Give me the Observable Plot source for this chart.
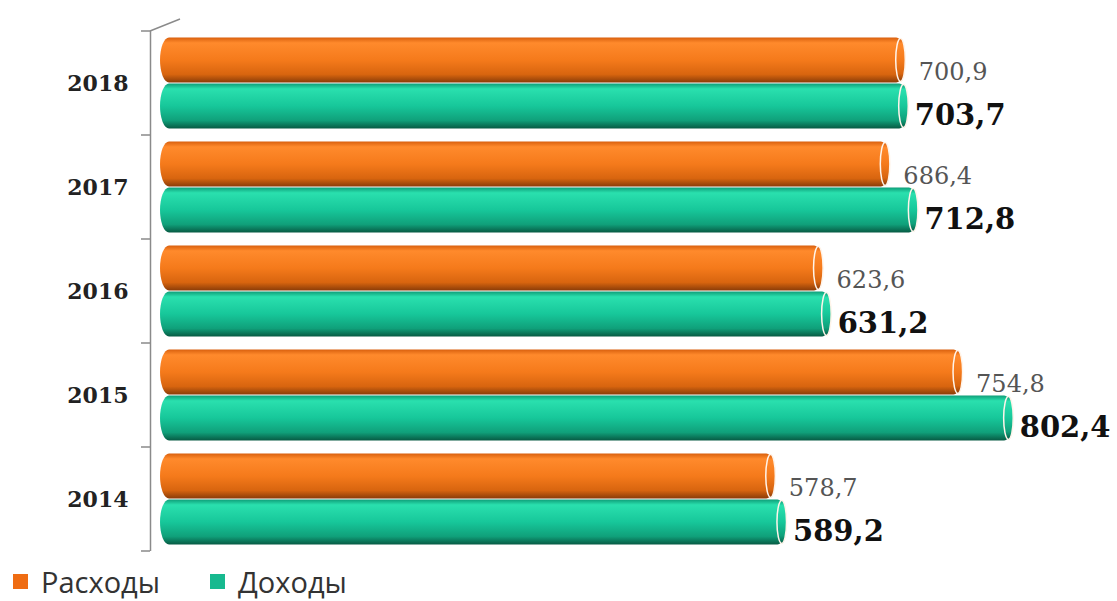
<!DOCTYPE html>
<html>
<head>
<meta charset="utf-8">
<script src="https://cdn.jsdelivr.net/npm/d3@7"></script>
<script src="https://cdn.jsdelivr.net/npm/@observablehq/plot@0.6"></script>
<style>
  html, body { margin: 0; padding: 0; background: #fff; overflow: hidden; }
  #chart { width: 1117px; }
  #chart svg { display: block; }
  .legend { display: flex; align-items: center; height: 38px; font-family: "Open Sans", sans-serif; font-size: 29px; line-height: 1; color: #333; }
  .legend .item { display: flex; align-items: center; }
  .legend .sw { width: 15px; height: 15px; display: inline-block; margin-right: 13px; }
</style>
</head>
<body>
<svg width="0" height="0" style="position:absolute">
  <defs>
    <linearGradient id="gOrange" x1="0" y1="0" x2="0" y2="1">
      <stop offset="0" stop-color="#d9600e"/>
      <stop offset="0.12" stop-color="#ff8a2c"/>
      <stop offset="0.5" stop-color="#f57a1b"/>
      <stop offset="0.82" stop-color="#d8650f"/>
      <stop offset="1" stop-color="#8a3c08"/>
    </linearGradient>
    <linearGradient id="gTeal" x1="0" y1="0" x2="0" y2="1">
      <stop offset="0" stop-color="#0e9e78"/>
      <stop offset="0.12" stop-color="#2ae0ae"/>
      <stop offset="0.5" stop-color="#17c79a"/>
      <stop offset="0.82" stop-color="#10a07a"/>
      <stop offset="1" stop-color="#075a43"/>
    </linearGradient>
  </defs>
</svg>
<div id="chart"></div>
<script>
const years = ["2018", "2017", "2016", "2015", "2014"];
const seriesNames = ["Расходы", "Доходы"];
const expenses = [700.9, 686.4, 623.6, 754.8, 578.7];
const incomes = [703.7, 712.8, 631.2, 802.4, 589.2];
const seriesColors = ["#ef6c12", "#17b98f"];
const seriesFills = ["url(#gOrange)", "url(#gTeal)"];

const data = years.flatMap((year, i) => [
  {year, series: seriesNames[0], value: expenses[i]},
  {year, series: seriesNames[1], value: incomes[i]}
]);

const fmt = v => v.toFixed(1).replace(".", ",");
const isExp = d => d.series === seriesNames[0];
const isInc = d => d.series === seriesNames[1];

const plot = Plot.plot({
  width: 1117,
  height: 562,
  marginLeft: 160,
  marginRight: 0,
  marginTop: 30,
  marginBottom: 10,
  style: {fontFamily: "DejaVu Serif", background: "#fff"},
  facet: {data, y: "year"},
  fy: {domain: years, padding: 0, axis: null, label: null},
  y: {domain: seriesNames, axis: null, paddingInner: 0, paddingOuter: 0.11},
  x: {domain: [0, 900], axis: null},
  marks: [
    Plot.ruleX(data, {filter: isExp, x: () => 0, dx: -10, stroke: "#8a8a8a", strokeWidth: 1.5}),
    Plot.barX(data, {x: "value", y: "series", fill: d => seriesFills[seriesNames.indexOf(d.series)], rx: 9, ry: 24, insetTop: 0.5, insetBottom: 0.5}),
    Plot.barX(data, {x1: d => d.value - 9, x2: "value", y: "series", fill: d => seriesFills[seriesNames.indexOf(d.series)], stroke: "#fff4ea", strokeWidth: 1.5, rx: 5, ry: 24, insetTop: 1.5, insetBottom: 1.5}),
    Plot.text(data, {filter: isExp, frameAnchor: "left", text: "year", textAnchor: "end", dx: -32, fontSize: 22, fontWeight: "bold", fill: "#222"}),
    Plot.text(data, {filter: isExp, x: "value", y: "series", text: d => fmt(d.value), textAnchor: "start", dx: 13, dy: 12, fontSize: 24, fill: "#555"}),
    Plot.text(data, {filter: isInc, x: "value", y: "series", text: d => fmt(d.value), textAnchor: "start", dx: 6, dy: 9, fontSize: 29, fontWeight: "bold", fill: "#111"})
  ]
});

// axis ticks at group boundaries (decorative axis like the original)
const svg = d3.select(plot);
const fy = plot.scale("fy");
const axisX = 150;
let bounds = [];
if (fy && fy.apply) {
  const bw = fy.bandwidth;
  bounds = years.map(y => fy.apply(y));
  bounds.push(fy.apply(years[years.length - 1]) + bw);
}
svg.append("g").attr("stroke", "#8a8a8a").attr("stroke-width", 1.5)
  .selectAll("line").data(bounds).join("line")
  .attr("x1", axisX - 9).attr("x2", axisX).attr("y1", d => d).attr("y2", d => d);
if (bounds.length) {
  svg.append("line").attr("stroke", "#8a8a8a").attr("stroke-width", 1.5)
    .attr("x1", axisX).attr("y1", bounds[0]).attr("x2", axisX + 30).attr("y2", bounds[0] - 12);
}

document.getElementById("chart").appendChild(plot);

const legend = document.createElement("div");
legend.className = "legend";
seriesNames.forEach((name, i) => {
  const item = document.createElement("span");
  item.className = "item";
  item.style.marginLeft = i === 0 ? "13px" : "50px";
  const sw = document.createElement("span");
  sw.className = "sw";
  sw.style.background = seriesColors[i];
  item.appendChild(sw);
  item.appendChild(document.createTextNode(name));
  legend.appendChild(item);
});
document.getElementById("chart").appendChild(legend);
</script>
</body>
</html>
